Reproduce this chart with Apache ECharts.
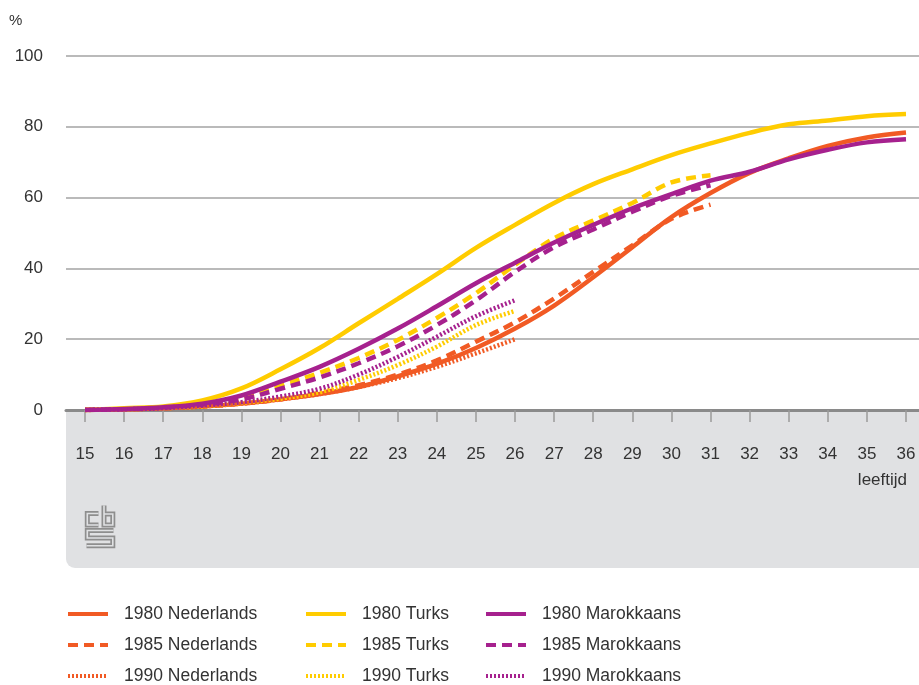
<!DOCTYPE html>
<html>
<head>
<meta charset="utf-8">
<script src="https://cdn.jsdelivr.net/npm/echarts@6/dist/echarts.min.js"></script>
<style>html,body{margin:0;padding:0;background:#fff;}#c{width:919px;height:685px;}</style>
</head>
<body>
<div id="c"></div>
<script>
// ---- data ----
var ages = [15,16,17,18,19,20,21,22,23,24,25,26,27,28,29,30,31,32,33,34,35,36];
var yTicks = [0,20,40,60,80,100];
var ned1980 = [0,0.2,0.5,1,1.8,3,4.5,6.5,9.5,13,17.5,23,29.5,37.5,46,54.5,61.3,67,71.1,74.6,77,78.4];
var ned1985 = [0,0.2,0.5,1,1.8,3,4.8,7,10,14,19.3,24.8,31.5,39,46.5,54,58];
var ned1990 = [0,0.2,0.5,1,1.8,3,4.5,6.5,9,12.2,16,20];
var turks1980 = [0,0.5,1,2.7,6.1,11.5,17.5,24.5,31.4,38.4,45.8,52.3,58.5,63.8,68,72,75.3,78.3,80.7,81.8,83,83.6];
var turks1985 = [0,0.2,0.6,1.5,3.5,7,10.5,14.7,19.8,26,33,41,48.5,53.5,58.5,64.3,66.3];
var turks1990 = [0,0.2,0.5,1,2,3.2,5,8.5,12.7,17.9,24,28];
var mar1980 = [0,0.3,0.8,1.8,4.1,8,12.2,17.3,23,29.3,35.8,41.6,47.3,52.3,57,61,64.8,67.3,70.8,73.5,75.6,76.5];
var mar1985 = [0,0.2,0.6,1.5,3,6,9.2,13.2,18,24,31,39,46,51,56,60.5,63.5];
var mar1990 = [0,0.2,0.5,1.2,2.2,3.8,6,10,15,20.7,26.5,31];
var names = ['1980 Nederlands','1985 Nederlands','1990 Nederlands','1980 Turks','1985 Turks','1990 Turks','1980 Marokkaans','1985 Marokkaans','1990 Marokkaans'];

// ---- styles ----
var ORANGE = '#f15a24', YELLOW = '#ffcc00', PURPLE = '#a6218e';
var TXT = '#333333';
var FONT = 'Liberation Sans, Arial, sans-serif';
var DASH = [10, 6], DOT = [2, 2];

function pairs(vals){ return vals.map(function(v,i){ return [ages[i], v]; }); }
function mk(name, vals, color, type){
  return {
    name: name, type: 'line', xAxisIndex: 0, yAxisIndex: 0,
    data: pairs(vals), smooth: 0.35, symbol: 'none', showSymbol: false,
    lineStyle: {color: color, width: 4.5, type: type, cap: 'butt'},
    itemStyle: {color: color},
    emphasis: {disabled: true}, animation: false
  };
}

var series = [
  mk(names[0], ned1980, ORANGE, 'solid'),
  mk(names[1], ned1985, ORANGE, DASH),
  mk(names[2], ned1990, ORANGE, DOT),
  mk(names[3], turks1980, YELLOW, 'solid'),
  mk(names[4], turks1985, YELLOW, DASH),
  mk(names[5], turks1990, YELLOW, DOT),
  mk(names[6], mar1980, PURPLE, 'solid'),
  mk(names[7], mar1985, PURPLE, DASH),
  mk(names[8], mar1990, PURPLE, DOT)
];

function legend(data, left){
  return {
    data: data, orient: 'vertical', left: left, top: 605, height: 120,
    itemWidth: 40, itemHeight: 14, itemGap: 13, padding: 0,
    selectedMode: false,
    itemStyle: {opacity: 0, borderWidth: 0},
    lineStyle: {width: 4},
    textStyle: {fontFamily: FONT, fontSize: 17.5, lineHeight: 18, color: TXT, padding: [0,0,0,11]}
  };
}

// CBS logo (outline look: thick gray stroke, thin background stroke on top)
var BAND = '#e0e1e3', LOGO = '#8e8e8e';
var logoPaths = [
  [[97,513.5],[85.8,513.5],[85.8,525],[97,525]],
  [[102.5,505.5],[102.5,525],[111.3,525],[111.3,514],[102.5,514]],
  [[112,530.5],[85.8,530.5],[85.8,538],[111.3,538],[111.3,545.7],[85,545.7]]
];
var logoEls = [];
logoPaths.forEach(function(p){
  var pts = p.map(function(q){ return [q[0]-84, q[1]-503]; });
  logoEls.push({type:'polyline', shape:{points:pts}, style:{stroke:LOGO, lineWidth:5, fill:null, lineJoin:'miter'}, z: 1, silent: true});
  logoEls.push({type:'polyline', shape:{points:pts}, style:{stroke:BAND, lineWidth:1.6, fill:null, lineJoin:'miter'}, z: 2, silent: true});
});

var chart = echarts.init(document.getElementById('c'), null, {renderer: 'canvas'});
chart.setOption({
  backgroundColor: '#ffffff',
  animation: false,
  title: [
    {text: '%', left: 9, top: 13, padding: 0, textStyle: {fontFamily: FONT, fontSize: 15, fontWeight: 'normal', color: TXT}},
    {text: 'leeftijd', right: 12, top: 472, padding: 0, textStyle: {fontFamily: FONT, fontSize: 17, fontWeight: 'normal', color: TXT}}
  ],
  legend: [
    legend([names[0], names[1], names[2]], 66),
    legend([names[3], names[4], names[5]], 304),
    legend([names[6], names[7], names[8]], 484)
  ],
  grid: [
    {left: 85, right: 13, top: 56, bottom: 275},
    {left: 66, right: 0, top: 56, bottom: 275}
  ],
  xAxis: [
    {type: 'value', gridIndex: 0, min: ages[0], max: ages[ages.length-1], interval: 1,
     axisLine: {show: false},
     axisTick: {show: true, length: 12, lineStyle: {color: '#9a9a9a', width: 1.5}},
     axisLabel: {margin: 36, fontFamily: FONT, fontSize: 17, color: TXT},
     splitLine: {show: false}},
    {type: 'value', gridIndex: 1, min: 0, max: 1,
     axisLine: {show: true, onZero: false, lineStyle: {color: '#8a8a8a', width: 3}},
     axisTick: {show: false}, axisLabel: {show: false}, splitLine: {show: false}}
  ],
  yAxis: [
    {type: 'value', gridIndex: 0, min: yTicks[0], max: yTicks[yTicks.length-1], interval: 20,
     show: false, splitLine: {show: false}},
    {type: 'value', gridIndex: 1, min: yTicks[0], max: yTicks[yTicks.length-1], interval: 20,
     axisLine: {show: false}, axisTick: {show: false},
     axisLabel: {margin: 23, fontFamily: FONT, fontSize: 17, color: TXT},
     splitLine: {show: true, lineStyle: {color: '#a3a3a3', width: 1.5}}}
  ],
  graphic: [
    {type: 'rect', left: 66, top: 411, shape: {width: 853, height: 157, r: [0,0,0,9]}, style: {fill: BAND}, z: -10, silent: true},
    {type: 'group', left: 84, top: 503, children: logoEls, z: 5}
  ],
  series: series
});
</script>
</body>
</html>
